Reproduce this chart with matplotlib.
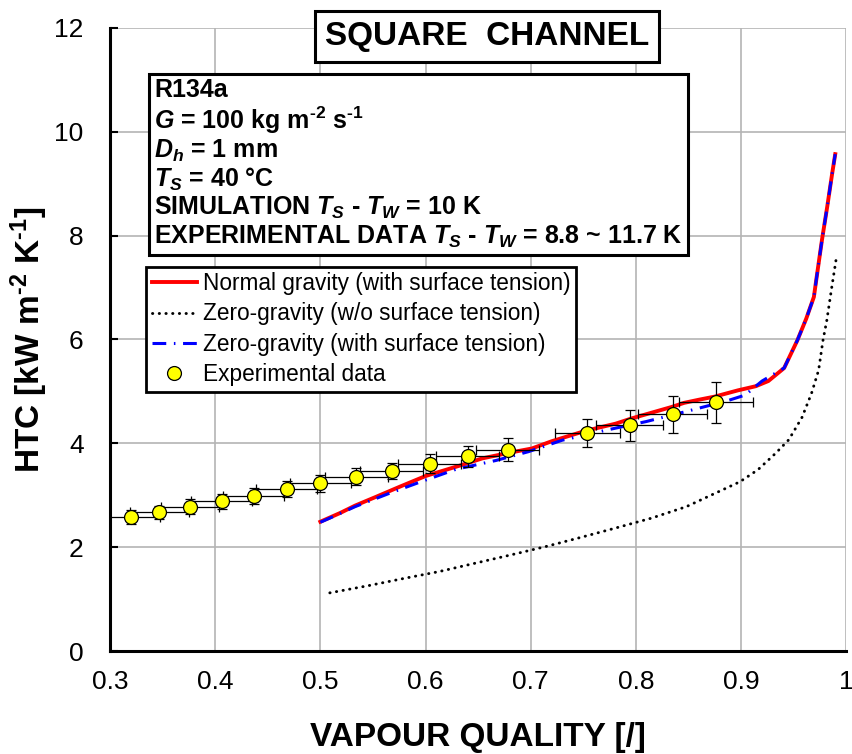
import matplotlib
matplotlib.use("Agg")
import matplotlib.pyplot as plt
from matplotlib.lines import Line2D

plt.rcParams['font.family'] = ['Liberation Sans', 'DejaVu Sans']
plt.rcParams['mathtext.fontset'] = 'custom'
plt.rcParams['mathtext.rm'] = 'Liberation Sans:bold'
plt.rcParams['mathtext.bf'] = 'Liberation Sans:bold'
plt.rcParams['mathtext.it'] = 'Liberation Sans:bold:italic'

# simulation, normal gravity (with surface tension)
x_normal = [0.500, 0.519, 0.533, 0.553, 0.575, 0.600, 0.634, 0.654, 0.680, 0.701,
            0.720, 0.752, 0.781, 0.796, 0.834, 0.846, 0.860, 0.875, 0.897, 0.914,
            0.926, 0.941, 0.9535, 0.962, 0.9693, 0.9715, 0.977, 0.982, 0.9867, 0.9896]
y_normal = [2.49, 2.66, 2.80, 2.97, 3.16, 3.37, 3.58, 3.71, 3.82, 3.90,
            4.04, 4.24, 4.38, 4.48, 4.70, 4.78, 4.84, 4.90, 5.02, 5.10,
            5.20, 5.45, 5.98, 6.40, 6.82, 7.14, 7.92, 8.56, 9.20, 9.57]

# simulation, zero gravity without surface tension
x_zero_wo = [0.509, 0.546, 0.580, 0.613, 0.647, 0.681, 0.714, 0.748, 0.781, 0.815,
             0.848, 0.882, 0.899, 0.916, 0.933, 0.945, 0.949, 0.958, 0.967, 0.9738,
             0.978, 0.9816, 0.9864, 0.9911]
y_zero_wo = [1.12, 1.26, 1.40, 1.53, 1.69, 1.85, 2.01, 2.19, 2.37, 2.56,
             2.78, 3.10, 3.26, 3.49, 3.81, 4.06, 4.19, 4.50, 4.96, 5.41,
             5.99, 6.37, 7.02, 7.63]

# simulation, zero gravity with surface tension
x_zero_st = [0.500, 0.509, 0.533, 0.566, 0.597, 0.629, 0.667, 0.698, 0.730, 0.771,
             0.810, 0.853, 0.887, 0.904, 0.920, 0.941, 0.9535, 0.962, 0.9693, 0.9715,
             0.977, 0.982, 0.9867, 0.9896]
y_zero_st = [2.48, 2.56, 2.78, 3.04, 3.27, 3.50, 3.67, 3.84, 4.06, 4.25,
             4.42, 4.64, 4.82, 4.93, 5.20, 5.45, 5.98, 6.40, 6.82, 7.14,
             7.92, 8.56, 9.20, 9.57]

# experimental data
x_exp = [0.3195, 0.347, 0.376, 0.406, 0.4365, 0.468, 0.500, 0.534, 0.568, 0.604,
         0.640, 0.678, 0.754, 0.794, 0.835, 0.876]
y_exp = [2.58, 2.67, 2.78, 2.88, 2.99, 3.12, 3.23, 3.36, 3.47, 3.61,
         3.75, 3.88, 4.19, 4.35, 4.56, 4.79]
xerr_exp = [0.028, 0.028, 0.028, 0.029, 0.029, 0.029, 0.029, 0.030, 0.030, 0.030,
            0.030, 0.030, 0.031, 0.032, 0.033, 0.035]
yerr_exp = [0.13, 0.13, 0.14, 0.14, 0.15, 0.15, 0.16, 0.16, 0.16, 0.19,
            0.20, 0.22, 0.27, 0.30, 0.36, 0.40]

x_ticks = [0.3, 0.4, 0.5, 0.6, 0.7, 0.8, 0.9, 1.0]
x_labels = ["0.3", "0.4", "0.5", "0.6", "0.7", "0.8", "0.9", "1"]
y_ticks = [0, 2, 4, 6, 8, 10, 12]

DOTS = (0, (0.1, 2.2))
DASHDOT = (0, (4.5, 2.5, 0.5, 2.5))

fig = plt.figure(figsize=(8.53, 7.54), dpi=100)
ax = fig.add_axes([0.129, 0.1366, 0.863, 0.8263])

ax.plot(x_normal, y_normal, color='#ff0000', lw=2.8, zorder=3)
ax.plot(x_zero_wo, y_zero_wo, color='black', lw=2.1, linestyle=DOTS,
        dash_capstyle='round', zorder=3)
ax.plot(x_zero_st, y_zero_st, color='#0000ff', lw=2.2, linestyle=DASHDOT, zorder=4)
ax.errorbar(x_exp, y_exp, xerr=xerr_exp, yerr=yerr_exp, fmt='o', ms=10,
            mfc='#ffff00', mec='black', mew=0.9, ecolor='black', elinewidth=0.9,
            capsize=3.5, capthick=0.9, zorder=5)

ax.set_xlim(0.3, 1.0)
ax.set_ylim(0, 12)
ax.set_xticks(x_ticks)
ax.set_xticklabels(x_labels)
ax.set_yticks(y_ticks)
ax.grid(True, color='#b4b4b4', lw=1.2)
ax.set_axisbelow(True)
for s in ['top', 'right']:
    ax.spines[s].set_visible(False)
for s in ['left', 'bottom']:
    ax.spines[s].set_linewidth(2.2)
ax.tick_params(axis='y', direction='in', length=6, width=1.5, labelsize=19, pad=19)
ax.tick_params(axis='x', length=0, labelsize=19, pad=14)

ax.set_xlabel('VAPOUR QUALITY [/]', fontsize=24, fontweight='bold', labelpad=20)
ax.set_ylabel(r'HTC [kW m$^{\text{-}2}$ K$^{\text{-}1}$]', fontsize=24,
              fontweight='bold', labelpad=3)

ax.text(0.512, 0.986, 'SQUARE  CHANNEL', transform=ax.transAxes, ha='center',
        va='center', fontsize=24, fontweight='bold', zorder=6, clip_on=False,
        bbox=dict(boxstyle='square,pad=0.3', fc='white', ec='black', lw=2.2))

params = ("R134a\n"
          r"$\it{G}$ = 100 kg m$^{\text{-}2}$ s$^{\text{-}1}$" "\n"
          r"$\it{D_h}$ = 1 mm" "\n"
          r"$\it{T_S}$ = 40 °C" "\n"
          r"SIMULATION $\it{T_S}$ - $\it{T_W}$ = 10 K" "\n"
          r"EXPERIMENTAL DATA $\it{T_S}$ - $\it{T_W}$ = 8.8 ~ 11.7 K")
ax.text(0.06, 0.92, params, transform=ax.transAxes, ha='left', va='top',
        fontsize=18, fontweight='bold', linespacing=1.1, zorder=6,
        bbox=dict(boxstyle='square,pad=0.2', fc='white', ec='black', lw=2.2))

handles = [
    Line2D([], [], color='#ff0000', lw=2.8),
    Line2D([], [], color='black', lw=2.1, linestyle=DOTS, dash_capstyle='round'),
    Line2D([], [], color='#0000ff', lw=2.2, linestyle=DASHDOT),
    Line2D([], [], marker='o', ms=10, mfc='#ffff00', mec='black', mew=0.9, lw=0),
]
labels = ['Normal gravity (with surface tension)',
          'Zero-gravity (w/o surface tension)',
          'Zero-gravity (with surface tension)',
          'Experimental data']
leg = ax.legend(handles, labels, loc='upper left', bbox_to_anchor=(0.049, 0.617),
                fontsize=16.3, frameon=True, fancybox=False, framealpha=1,
                edgecolor='black', handlelength=2.0, handletextpad=0.25,
                labelspacing=0.32, borderpad=0.25, borderaxespad=0)
leg.get_frame().set_linewidth(2.0)
leg.set_zorder(6)

fig.savefig('out.png', dpi=100)
